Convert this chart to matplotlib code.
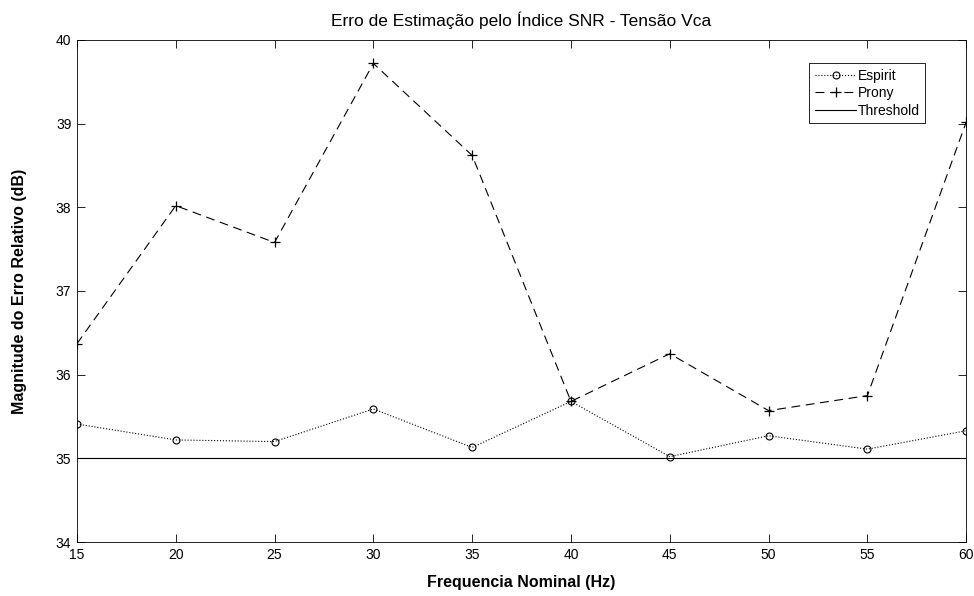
import matplotlib
matplotlib.use("Agg")
import matplotlib.pyplot as plt

plt.rcParams['font.family'] = ['Liberation Sans', 'DejaVu Sans']

freq = [15, 20, 25, 30, 35, 40, 45, 50, 55, 60]
espirit = [35.41, 35.22, 35.20, 35.59, 35.13, 35.68, 35.02, 35.27, 35.11, 35.33]
prony = [36.37, 38.02, 37.58, 39.72, 38.62, 35.68, 36.25, 35.57, 35.75, 39.02]
threshold = [35.0] * len(freq)

fig = plt.figure(figsize=(9.74, 5.96), dpi=100)
ax = fig.add_axes([0.079, 0.0906, 0.913, 0.8423])

ax.plot(freq, espirit, linestyle=':', color='black', marker='o', markersize=5,
        markerfacecolor='none', markeredgewidth=0.8, linewidth=0.8, label='Espirit')
ax.plot(freq, prony, linestyle=(0, (8, 5)), color='black', marker='+', markersize=7,
        markeredgewidth=0.9, linewidth=0.8, label='Prony')
ax.plot(freq, threshold, linestyle='-', color='black', linewidth=0.8, label='Threshold')

ax.set_xlim(15, 60)
ax.set_ylim(34, 40)
ax.set_xticks(freq)
ax.set_yticks([34, 35, 36, 37, 38, 39, 40])
ax.tick_params(axis='x', direction='in', top=True, labelsize=10, length=6, width=0.6, pad=4)
ax.tick_params(axis='y', direction='in', right=True, labelsize=10, length=6, width=0.6, pad=4)
for s in ax.spines.values():
    s.set_linewidth(0.6)

ax.set_title('Erro de Estimação pelo Índice SNR - Tensão Vca', fontsize=12.5, pad=10)
ax.set_xlabel('Frequencia Nominal (Hz)', fontsize=11.5, fontweight='bold', labelpad=10)
ax.set_ylabel('Magnitude do Erro Relativo (dB)', fontsize=11.5, fontweight='bold', labelpad=21)

leg = ax.legend(loc='upper right', bbox_to_anchor=(0.954, 0.954), fontsize=10,
                fancybox=False, edgecolor='black', framealpha=1,
                handlelength=3.0, handletextpad=0.1, borderpad=0.4, labelspacing=0.25,
                borderaxespad=0)
leg.get_frame().set_linewidth(0.6)

fig.savefig('out.png', dpi=100)
